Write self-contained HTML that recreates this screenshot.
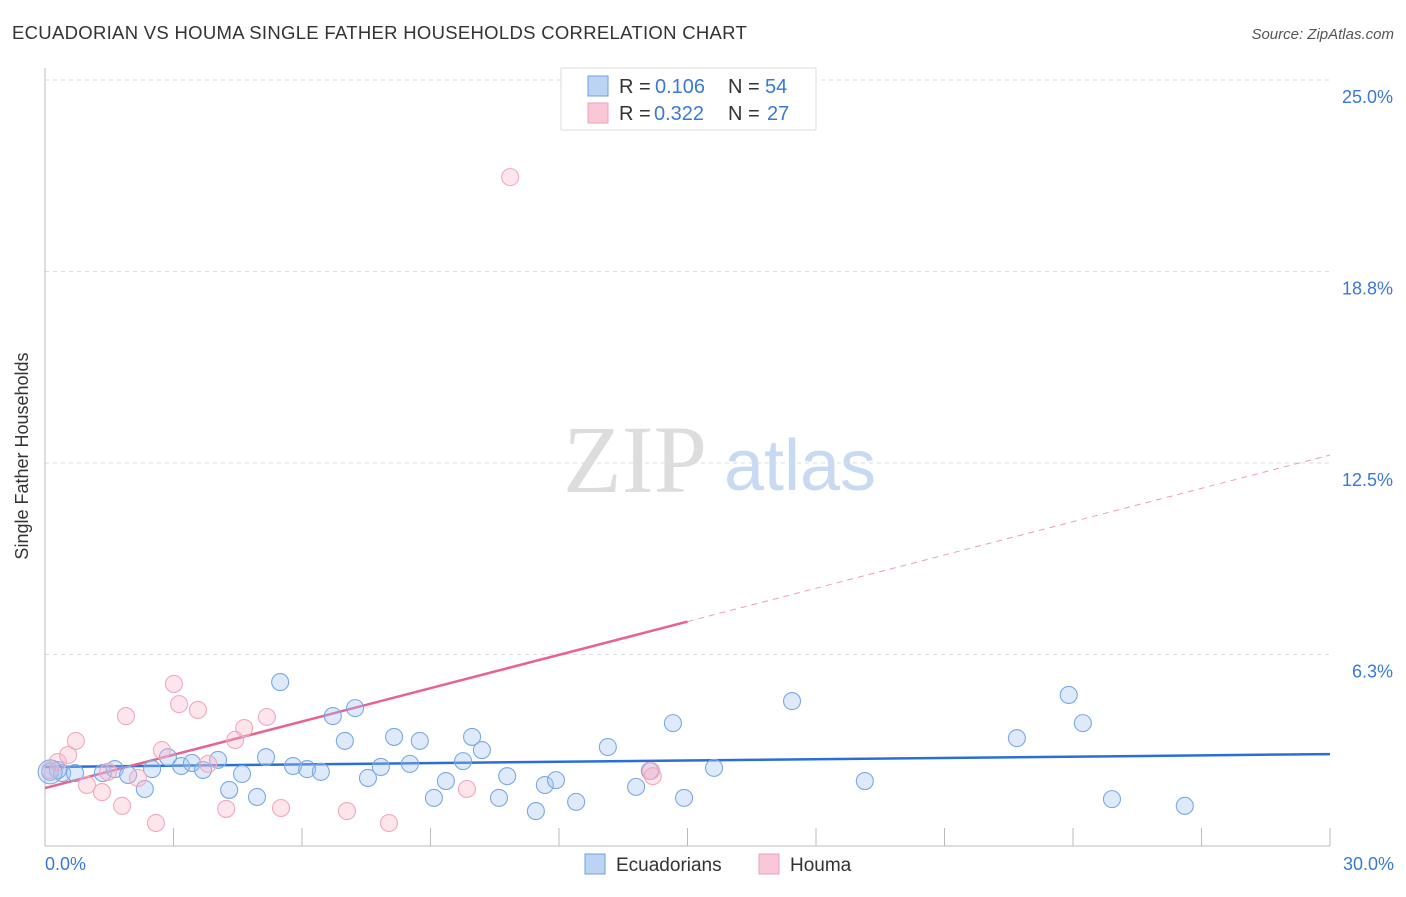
<!DOCTYPE html>
<html><head><meta charset="utf-8"><style>
body{margin:0;background:#fff;font-family:"Liberation Sans",sans-serif}
</style></head><body>
<svg width="1406" height="892" viewBox="0 0 1406 892" xmlns="http://www.w3.org/2000/svg">
<text x="12" y="39" font-size="18.5" fill="#333" letter-spacing="0.3">ECUADORIAN VS HOUMA SINGLE FATHER HOUSEHOLDS CORRELATION CHART</text>
<text x="1394" y="39" font-size="15" fill="#555" font-style="italic" text-anchor="end">Source: ZipAtlas.com</text>
<text x="635" y="492" font-size="96" fill="#ddd" font-family="Liberation Serif,serif" text-anchor="middle">ZIP</text>
<text x="800" y="490" font-size="72" fill="#c8daf2" text-anchor="middle">atlas</text>
<g id="grid"></g>
<line x1="45" y1="68" x2="45" y2="846" stroke="#bbb"/>
<line x1="45" y1="846" x2="1330" y2="846" stroke="#bbb"/>
<g id="ticks"></g>
<text x="28" y="456" font-size="18" fill="#333" text-anchor="middle" transform="rotate(-90 28 456)">Single Father Households</text>
<text x="45" y="870" font-size="18" fill="#3a78d8">0.0%</text>
<text x="1394" y="870" font-size="18" fill="#3a78d8" text-anchor="end">30.0%</text>
<g id="lines"></g>
<g id="points"></g>
<g>
<rect x="561" y="68" width="255" height="62" fill="#fff" stroke="#ddd"/>
<rect x="588" y="76" width="20" height="20" fill="#bcd4f4" stroke="#6fa0e0"/>
<rect x="588" y="103" width="20" height="20" fill="#f9c8d6" stroke="#f0a0b8"/>
<text x="619" y="93" font-size="20" fill="#333">R =</text>
<text x="655" y="93" font-size="20" fill="#3a78d8">0.106</text>
<text x="728" y="93" font-size="20" fill="#333">N =</text>
<text x="765" y="93" font-size="20" fill="#3a78d8">54</text>
<text x="619" y="120" font-size="20" fill="#333">R =</text>
<text x="654" y="120" font-size="20" fill="#3a78d8">0.322</text>
<text x="728" y="120" font-size="20" fill="#333">N =</text>
<text x="767" y="120" font-size="20" fill="#3a78d8">27</text>
</g>
<g>
<rect x="585" y="854" width="20" height="20" fill="#bcd4f4" stroke="#6fa0e0"/>
<text x="616" y="871" font-size="19" fill="#333">Ecuadorians</text>
<rect x="759" y="854" width="20" height="20" fill="#f9c8d6" stroke="#f0a0b8"/>
<text x="790" y="871" font-size="19" fill="#333">Houma</text>
</g>
</svg>
<script>
const yTicks=[25,18.75,12.5,6.25];
const yTickLabels=["25.0%","18.8%","12.5%","6.3%"];
const xTicks=[3,6,9,12,15,18,21,24,27,30];
const blueX=[0.12,0.40,0.70,1.35,1.63,1.94,2.33,2.50,2.87,3.18,3.43,3.69,4.04,4.30,4.60,4.95,5.16,5.49,5.79,6.12,6.44,6.72,7.00,7.24,7.54,7.84,8.15,8.52,8.75,9.08,9.36,9.76,9.97,10.20,10.60,10.79,11.46,11.67,11.93,12.40,13.14,13.80,14.12,14.66,14.92,15.62,17.44,19.14,22.69,23.90,24.23,24.91,26.61,0.30];
const blueY=[2.42,2.38,2.38,2.38,2.51,2.32,1.86,2.51,2.90,2.61,2.71,2.48,2.81,1.83,2.35,1.60,2.90,5.35,2.61,2.51,2.42,4.24,3.43,4.50,2.22,2.58,3.56,2.68,3.43,1.57,2.12,2.77,3.56,3.13,1.57,2.28,1.14,1.99,2.15,1.44,3.23,1.93,2.45,4.01,1.57,2.55,4.73,2.12,3.52,4.93,4.01,1.53,1.31,2.48];
const pinkX=[0.12,0.30,0.54,0.72,0.98,1.33,1.47,1.80,1.89,2.17,2.59,2.73,3.01,3.13,3.57,3.81,4.23,4.44,4.65,5.18,5.51,7.05,8.03,9.85,10.86,14.15,14.19];
const pinkY=[2.48,2.74,2.97,3.43,1.99,1.76,2.42,1.31,4.24,2.22,0.75,3.13,5.29,4.63,4.44,2.68,1.21,3.46,3.85,4.21,1.24,1.14,0.75,1.86,21.83,2.45,2.28];
const blueTrend=[2.58,3.00];
const pinkTrend=[1.89,12.76];
const pinkSolidEnd=15.0;
const NS="http://www.w3.org/2000/svg";
const sx=v=>45+v/30*1285;
const sy=v=>846-v/6.25*191.5;
function mk(tag,attrs,parent){const e=document.createElementNS(NS,tag);for(const k in attrs)e.setAttribute(k,attrs[k]);document.getElementById(parent).appendChild(e);return e;}
yTicks.forEach((t,i)=>{
 const l=mk('line',{x1:45,x2:1330,y1:sy(t),y2:sy(t),stroke:'#ddd','stroke-dasharray':'4,4'},'grid');
 
 
 const tx=mk('text',{x:1393,y:sy(t)+23,'font-size':18,fill:'#3a78d8','text-anchor':'end'},'grid');
 tx.textContent=yTickLabels[i];
 
 
});
xTicks.forEach(t=>{
 const l=mk('line',{x1:sx(t),x2:sx(t),y1:828,y2:846,stroke:'#bbb'},'ticks');
 
 
});
function pts(xs,ys,fill,stroke,name){
 xs.forEach((x,i)=>{
  const c=mk('circle',{cx:sx(x),cy:sy(ys[i]),r:8.5,fill:fill,stroke:stroke,'stroke-width':1.1},'points');
  
  
 });
}
pts(blueX,blueY,'rgba(160,196,240,0.35)','#7aa8e4','ecuadorian-point');
pts(pinkX,pinkY,'rgba(248,180,200,0.35)','#f2a8be','houma-point');
const big=mk('circle',{cx:sx(blueX[0]),cy:sy(blueY[0]),r:12,fill:'rgba(160,196,240,0.35)',stroke:'#7aa8e4'},'points');


const bl=mk('line',{x1:sx(0),y1:sy(blueTrend[0]),x2:sx(30),y2:sy(blueTrend[1]),stroke:'#2a6fd6','stroke-width':2.5},'lines');


const pAt=x=>pinkTrend[0]+(pinkTrend[1]-pinkTrend[0])*x/30;
const pl=mk('line',{x1:sx(0),y1:sy(pAt(0)),x2:sx(pinkSolidEnd),y2:sy(pAt(pinkSolidEnd)),stroke:'#e8628e','stroke-width':2.5},'lines');


const pd=mk('line',{x1:sx(pinkSolidEnd),y1:sy(pAt(pinkSolidEnd)),x2:sx(30),y2:sy(pAt(30)),stroke:'#e8a0b8','stroke-width':1,'stroke-dasharray':'6,5'},'lines');


</script>
</body></html>
